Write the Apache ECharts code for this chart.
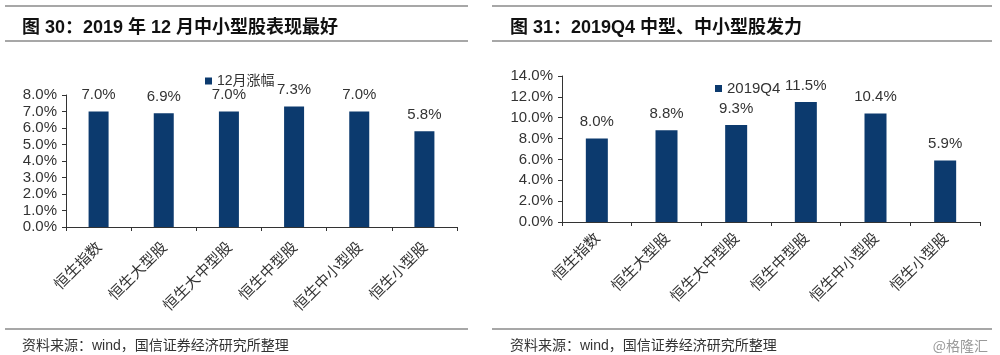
<!DOCTYPE html>
<html>
<head>
<meta charset="utf-8">
<script src="https://cdn.jsdelivr.net/npm/echarts@6/dist/echarts.min.js"></script>
<style>html,body{margin:0;padding:0;background:#fff;}#c{width:1000px;height:355px;}</style>
</head>
<body>
<div id="c"></div>
<script>
const categories = ['恒生指数','恒生大型股','恒生大中型股','恒生中型股','恒生中小型股','恒生小型股'];
const decValues = [7.0, 6.9, 7.0, 7.3, 7.0, 5.8];
const q4Values = [8.0, 8.8, 9.3, 11.5, 10.4, 5.9];
const decTicks = {min: 0, max: 8, interval: 1};
const q4Ticks = {min: 0, max: 14, interval: 2};
const titles = ['图 30：2019 年 12 月中小型股表现最好', '图 31：2019Q4 中型、中小型股发力'];
const sourceText = '资料来源：wind，国信证券经济研究所整理';
const seriesNames = ['12月涨幅', '2019Q4'];

const FONT = "'Liberation Sans', Arial, 'Noto Sans CJK SC', sans-serif";
const BAR = '#0c3a6e';
const AX = '#333333';
const pct = v => Number(v).toFixed(1) + '%';

function xAxis(gi, m) {
  return {
    type: 'category', gridIndex: gi, data: categories,
    axisLine: {lineStyle: {color: AX, width: 1}},
    axisTick: {show: true, length: 4, lineStyle: {color: AX}},
    axisLabel: {rotate: 45, fontSize: 15, color: '#333', fontFamily: "'Noto Sans CJK SC', sans-serif", margin: m, interval: 0}
  };
}
function yAxis(gi, t) {
  return {
    type: 'value', gridIndex: gi, min: t.min, max: t.max, interval: t.interval,
    splitLine: {show: false},
    axisLine: {show: true, lineStyle: {color: AX, width: 1}},
    axisTick: {show: true, length: 4, lineStyle: {color: AX}},
    axisLabel: {fontSize: 15, color: '#333', fontFamily: FONT, margin: 9, formatter: pct}
  };
}
function bar(name, gi, data, w) {
  return {
    name, type: 'bar', xAxisIndex: gi, yAxisIndex: gi, data, barWidth: w,
    itemStyle: {color: BAR},
    label: {show: true, position: 'top', distance: 9, fontSize: 15, color: '#333', fontFamily: FONT, formatter: p => pct(p.value)},
    animation: false
  };
}
const lineStyle = {stroke: '#8a8a8a', lineWidth: 1.5};
const chart = echarts.init(document.getElementById('c'), null, {renderer: 'canvas'});
chart.setOption({
  animation: false,
  backgroundColor: '#fff',
  textStyle: {fontFamily: FONT},
  title: [
    {text: titles[0], left: 17, top: 14, textStyle: {fontSize: 18, fontWeight: 'bold', color: '#111', fontFamily: FONT}},
    {text: titles[1], left: 505, top: 14, textStyle: {fontSize: 18, fontWeight: 'bold', color: '#111', fontFamily: FONT}},
    {text: sourceText, left: 17, top: 334, textStyle: {fontSize: 14, fontWeight: 'normal', color: '#333', fontFamily: FONT}},
    {text: sourceText, left: 505, top: 334, textStyle: {fontSize: 14, fontWeight: 'normal', color: '#333', fontFamily: FONT}},
    {text: '@格隆汇', right: 7, top: 334, textStyle: {fontSize: 14, fontWeight: 'normal', color: '#999', fontFamily: "'Noto Sans CJK SC', sans-serif"}}
  ],
  legend: [
    {data: [seriesNames[0]], left: 200, top: 69, icon: 'rect', itemWidth: 7, itemHeight: 7, textStyle: {fontSize: 14, color: '#333', fontFamily: FONT}},
    {data: [seriesNames[1]], left: 710, top: 76, icon: 'rect', itemWidth: 7, itemHeight: 7, textStyle: {fontSize: 15, color: '#333', fontFamily: FONT}}
  ],
  grid: [
    {left: 66, top: 95, width: 391, height: 132},
    {left: 562, top: 76, width: 418, height: 146}
  ],
  xAxis: [xAxis(0, 17), xAxis(1, 13)],
  yAxis: [yAxis(0, decTicks), yAxis(1, q4Ticks)],
  series: [bar(seriesNames[0], 0, decValues, 20), bar(seriesNames[1], 1, q4Values, 22)],
  graphic: [
    {type: 'line', shape: {x1: 5, y1: 6, x2: 468, y2: 6}, style: lineStyle},
    {type: 'line', shape: {x1: 5, y1: 41, x2: 468, y2: 41}, style: lineStyle},
    {type: 'line', shape: {x1: 5, y1: 329, x2: 468, y2: 329}, style: lineStyle},
    {type: 'line', shape: {x1: 492, y1: 6, x2: 992, y2: 6}, style: lineStyle},
    {type: 'line', shape: {x1: 492, y1: 41, x2: 992, y2: 41}, style: lineStyle},
    {type: 'line', shape: {x1: 492, y1: 329, x2: 992, y2: 329}, style: lineStyle}
  ]
});
</script>
</body>
</html>
